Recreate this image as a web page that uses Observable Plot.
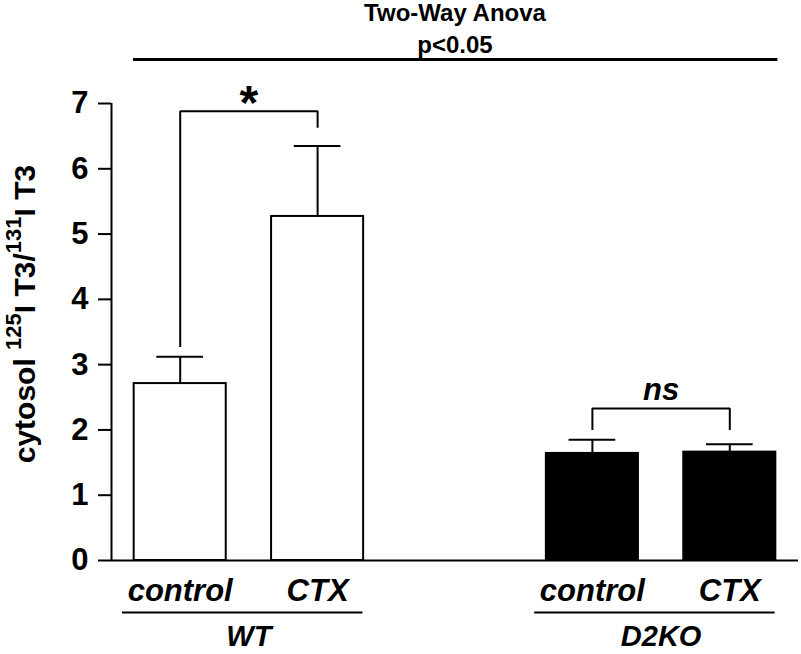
<!DOCTYPE html>
<html><head><meta charset="utf-8">
<script src="https://cdn.jsdelivr.net/npm/d3@7"></script>
<script src="https://cdn.jsdelivr.net/npm/@observablehq/plot@0.6"></script>
<style>body{margin:0;background:#fff}</style>
</head><body><div id="chart"></div>
<script>
// ---- data ----
const groups = ["WT", "WT", "D2KO", "D2KO"];
const treatments = ["control", "CTX", "control", "CTX"];
const slots = [0, 1, 3, 4];               // category slot on x (slot 2 is the gap)
const means = [2.71, 5.27, 1.64, 1.66];
const sems = [0.41, 1.08, 0.21, 0.12];
const yTicks = [0, 1, 2, 3, 4, 5, 6, 7];
const groupNames = ["WT", "D2KO"];
const bracketLabels = ["*", "ns"];
const bracketFrom = [0, 3];
const bracketTo = [1, 4];
const bracketTop = [6.88, 2.33];
const bracketLeftEnd = [3.27, 2.0];
const bracketRightEnd = [6.63, 2.0];
const anovaTitle = "Two-Way Anova";
const anovaP = "p<0.05";

// ---- derived tables ----
const data = slots.map((s, i) => ({slot: s, group: groups[i], treatment: treatments[i], mean: means[i], sem: sems[i]}));
const groupData = groupNames.map(g => {
  const ss = data.filter(d => d.group === g).map(d => d.slot);
  return {name: g, first: d3.min(ss), last: d3.max(ss)};
});
const bracketPts = [];
bracketLabels.forEach((l, i) => {
  bracketPts.push({id: l, x: bracketFrom[i], y: bracketLeftEnd[i]});
  bracketPts.push({id: l, x: bracketFrom[i], y: bracketTop[i]});
  bracketPts.push({id: l, x: bracketTo[i], y: bracketTop[i]});
  bracketPts.push({id: l, x: bracketTo[i], y: bracketRightEnd[i]});
});
const brackets = bracketLabels.map((l, i) => ({label: l, x: (bracketFrom[i] + bracketTo[i]) / 2, y: bracketTop[i]}));
const xDomain = [d3.min(slots) - 0.5, d3.max(slots) + 0.5];
const yMax = d3.max(yTicks);
const anova = {x1: d3.min(slots) - 0.34, x2: d3.max(slots) + 0.35, x: (d3.min(slots) + d3.max(slots)) / 2, y: yMax};

const halfBar = 0.335, halfCap = 0.17;
const FONT = "'Liberation Sans', Arial, Helvetica, sans-serif";

const chart = Plot.plot({
  width: 801,
  height: 654,
  marginLeft: 111,
  marginRight: 3,
  marginTop: 103,
  marginBottom: 94,
  style: {fontFamily: FONT, background: "#fff", color: "#000"},
  x: {domain: xDomain, axis: null},
  y: {domain: [0, yMax], axis: null},
  marks: [
    Plot.axisY({ticks: yTicks, tickFormat: d => String(d), tickSize: 13, tickPadding: 10, fontSize: 31, fontWeight: "bold", strokeWidth: 2, label: null}),
    Plot.ruleX([xDomain[0]], {y1: yTicks[0], y2: yMax, strokeWidth: 2}),
    Plot.rectY(data, {x1: d => d.slot - halfBar, x2: d => d.slot + halfBar, y1: 0, y2: "mean",
      fill: d => d.group === "WT" ? "white" : "black", stroke: "black", strokeWidth: 2}),
    Plot.ruleX(data, {x: "slot", y1: "mean", y2: d => d.mean + d.sem, strokeWidth: 2}),
    Plot.ruleY(data, {y: d => d.mean + d.sem, x1: d => d.slot - halfCap, x2: d => d.slot + halfCap, strokeWidth: 2}),
    Plot.ruleY([0], {strokeWidth: 2}),
    Plot.line(bracketPts, {x: "x", y: "y", z: "id", strokeWidth: 2, strokeLinejoin: "miter", strokeLinecap: "butt"}),
    Plot.text(brackets.filter(b => b.label === "*"), {x: "x", y: "y", text: "label", dy: -8, fontSize: 48, fontWeight: "bold"}),
    Plot.text(brackets.filter(b => b.label !== "*"), {x: "x", y: "y", text: "label", dy: -18, fontSize: 31, fontWeight: "bold", fontStyle: "italic"}),
    // x category labels
    Plot.text(data, {x: "slot", text: "treatment", frameAnchor: "bottom", lineAnchor: "top", dy: 18,
      fontSize: 31, fontWeight: "bold", fontStyle: "italic"}),
    // group underline + label
    Plot.ruleY(groupData, {y: () => 0, x1: d => d.first - 0.42, x2: d => d.last + 0.33, dy: 52, strokeWidth: 2}),
    Plot.text(groupData, {x: d => (d.first + d.last) / 2, text: "name", frameAnchor: "bottom", lineAnchor: "top", dy: 65,
      fontSize: 29, fontWeight: "bold", fontStyle: "italic"}),
    // two-way anova annotation
    Plot.ruleY([anova], {y: "y", x1: "x1", x2: "x2", dy: -44, strokeWidth: 3}),
    Plot.text([anova], {x: "x", y: "y", text: () => anovaTitle, dy: -90, fontSize: 24, fontWeight: "bold"}),
    Plot.text([anova], {x: "x", y: "y", text: () => anovaP, dy: -58, fontSize: 24, fontWeight: "bold"})
  ]
});

// y-axis label with superscripts
const svg = d3.select(chart);
const lab = svg.append("text")
  .attr("transform", "translate(35,314) rotate(-90)")
  .attr("text-anchor", "middle")
  .attr("font-family", FONT)
  .attr("font-size", 30)
  .attr("font-weight", "bold")
  .attr("fill", "#000");
lab.append("tspan").text("cytosol ");
lab.append("tspan").attr("font-size", 22).attr("dy", -14).text("125");
lab.append("tspan").attr("dy", 14).text("I T3/");
lab.append("tspan").attr("font-size", 22).attr("dy", -14).text("131");
lab.append("tspan").attr("dy", 14).text("I T3");

document.getElementById("chart").appendChild(chart);
</script>
</body></html>
